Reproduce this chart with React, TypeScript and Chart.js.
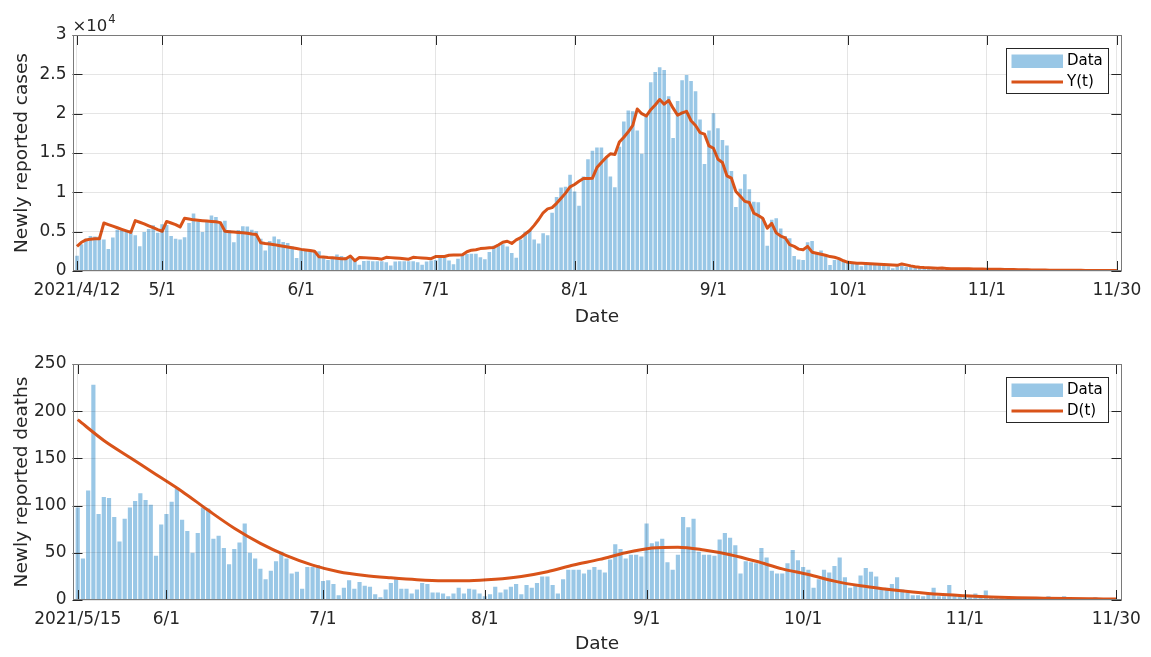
import React, { useEffect, useRef } from 'react';
import { Chart, registerables } from 'chart.js';

Chart.register(...registerables);

// ---------- Top panel: newly reported cases (day 0 = 2021/4/12) ----------
const caseCounts = [
  1950, 3400, 4100, 4450, 4400, 4400, 4000, 2800, 4250, 5250,
  5250, 5000, 5200, 4550, 3150, 4950, 5350, 5800, 4850, 5950,
  5850, 4450, 4100, 4000, 4300, 6100, 7300, 6300, 4950, 6250,
  7050, 6850, 6250, 6400, 5200, 3650, 5200, 5700, 5650, 5250,
  5050, 4100, 2600, 3800, 4400, 4050, 3700, 3550, 3100, 1650,
  2600, 2650, 2700, 2550, 2500, 1750, 1400, 1570, 2100, 1900,
  1750, 1800, 1400, 780, 1260, 1300, 1250, 1250, 1250, 1100,
  700, 1200, 1250, 1250, 1250, 1250, 1100, 780, 1200, 1350,
  1400, 1700, 1700, 1350, 870, 1550, 2050, 2150, 2200, 2200,
  1750, 1500, 2400, 3200, 3400, 3400, 3100, 2300, 1700, 4000,
  5000, 5200, 4000, 3500, 4800, 4550, 7400, 9400, 10600, 10700,
  12250, 10100, 8300, 12000, 14200, 15300, 15700, 15700, 14400, 12000,
  10650, 15800, 19000, 20400, 20300, 17850, 14900, 19850, 24000, 25300,
  25900, 25550, 22200, 16900, 21600, 24250, 24900, 24150, 22850, 19250,
  13600, 17850, 20050, 18150, 16650, 15950, 12700, 8150, 10450, 12300,
  10400, 8800, 8750, 6750, 3200, 6500, 6700, 5400, 4450, 4150,
  1900, 1450, 1400, 3650, 3800, 2250, 2600, 2050, 750, 1400,
  1450, 1300, 1150, 1050, 900, 600, 1000, 1000, 750, 800,
  700, 600, 350, 600, 650, 550, 500, 500, 420, 250,
  420, 390, 370, 340, 350, 300, 150, 280, 290, 260,
  260, 300, 220, 90, 180, 150, 220, 180, 160, 150,
  100, 150, 200, 180, 160, 170, 130, 60, 120, 150,
  140, 130, 120, 100, 80, 80, 100, 80, 80, 90,
  110, 80, 120,
];

const caseModel = [
  3130, 3650, 3950, 4050, 4100, 4100, 6100, 5900, 5700, 5500,
  5300, 5100, 4900, 6400, 6200, 6000, 5750, 5500, 5250, 5050,
  6300, 6100, 5900, 5600, 6700, 6600, 6500, 6450, 6400, 6350,
  6300, 6250, 6150, 5050, 5000, 4950, 4900, 4850, 4800, 4700,
  4650, 3600, 3500, 3420, 3350, 3250, 3150, 3050, 2950, 2850,
  2750, 2680, 2600, 2520, 1800, 1780, 1720, 1680, 1620, 1550,
  1550, 1900, 1300, 1720, 1700, 1660, 1620, 1580, 1500, 1740,
  1700, 1660, 1620, 1560, 1500, 1740, 1700, 1660, 1620, 1560,
  1830, 1840, 1850, 2000, 2020, 2040, 2060, 2450, 2650, 2700,
  2850, 2900, 2950, 3000, 3300, 3650, 3780, 3500, 3950, 4250,
  4700, 5150, 5800, 6550, 7400, 7900, 8050, 8600, 9250, 9900,
  10700, 11000, 11400, 11750, 11750, 11800, 13150, 13800, 14400, 14900,
  14800, 16400, 17000, 17700, 18500, 20600, 20000, 19700, 20500, 21100,
  21800, 21200, 21700, 20700, 19800, 20100, 20300, 19100, 18500, 17600,
  17400, 15900, 15600, 14200, 13800, 12100, 11800, 10100, 9500, 8850,
  8700, 7350, 7050, 6700, 5450, 6050, 4850, 4440, 4220, 3350,
  3130, 2780, 2700, 3130, 2390, 2260, 2130, 2000, 1830, 1740,
  1570, 1300, 1100, 1050, 1000, 980, 950, 920, 890, 860,
  830, 800, 760, 720, 900, 780, 650, 550, 480, 430,
  400, 380, 360, 370, 330, 300, 290, 280, 300, 280,
  260, 250, 240, 220, 210, 220, 210, 200, 190, 180,
  160, 150, 150, 140, 130, 130, 120, 110, 110, 100,
  100, 90, 90, 80, 80, 75, 70, 65, 60, 60,
  55, 50, 50,
];

const caseTickDays = [0, 19, 50, 80, 111, 142, 172, 203, 232];
const caseTickLabels = ['2021/4/12', '5/1', '6/1', '7/1', '8/1', '9/1', '10/1', '11/1', '11/30'];
const caseYTicks = [0, 5000, 10000, 15000, 20000, 25000, 30000];
const caseYTickLabels = ['0', '0.5', '1', '1.5', '2', '2.5', '3'];

// ---------- Bottom panel: newly reported deaths (day 0 = 2021/5/15) ----------
const deathCounts = [
  98, 44, 116, 228, 91, 109, 108, 88, 62, 86,
  98, 105, 113, 106, 101, 47, 80, 91, 104, 118,
  85, 73, 50, 71, 98, 97, 65, 68, 55, 38,
  54, 61, 81, 50, 44, 33, 22, 31, 41, 51,
  44, 28, 30, 12, 35, 35, 37, 20, 21, 17,
  5, 13, 21, 12, 19, 15, 14, 6, 3, 11,
  18, 22, 12, 12, 7, 11, 18, 17, 8, 8,
  7, 4, 7, 13, 7, 12, 11, 7, 4, 6,
  14, 8, 11, 14, 17, 6, 16, 13, 18, 25,
  25, 16, 7, 22, 32, 32, 32, 28, 32, 35,
  32, 29, 43, 59, 54, 44, 48, 48, 46, 81,
  60, 62, 65, 40, 32, 48, 88, 77, 86, 51,
  48, 48, 47, 64, 71, 66, 58, 28, 41, 40,
  39, 55, 45, 31, 28, 28, 39, 53, 42, 35,
  32, 13, 22, 32, 29, 36, 45, 24, 13, 16,
  26, 34, 30, 25, 11, 13, 17, 24, 11, 8,
  5, 5, 4, 6, 13, 4, 4, 16, 5, 4,
  3, 3, 7, 4, 10, 3, 2, 2, 1, 3,
  2, 1, 2, 1, 1, 2, 4, 1, 2, 4,
  1, 2, 1, 1, 2, 3, 1, 1, 2, 1,
];

const deathModelDays = [0, 5, 10, 15, 20, 25, 30, 35, 40, 45, 50, 55, 60, 65, 70, 75, 80, 85, 90, 95, 100, 105, 110, 115, 120, 125, 130, 135, 140, 145, 150, 155, 160, 165, 170, 175, 180, 185, 190, 195, 199];
const deathModelValues = [191, 169, 151, 133, 115, 95, 76, 60, 47, 37, 30, 26, 23.5, 21.5, 20.5, 20.5, 22, 25, 30, 37, 43, 50, 55, 56, 53, 48, 41, 33, 27, 20, 15, 11.5, 8.5, 6, 4.5, 3.3, 2.4, 1.9, 1.5, 1.2, 1];

const deathTickDays = [0, 17, 47, 78, 109, 139, 170, 199];
const deathTickLabels = ['2021/5/15', '6/1', '7/1', '8/1', '9/1', '10/1', '11/1', '11/30'];
const deathYTicks = [0, 50, 100, 150, 200, 250];
const deathYTickLabels = ['0', '50', '100', '150', '200', '250'];

// ---------- styling ----------
const BAR_COLOR = 'rgb(153,199,230)';
const LINE_COLOR = 'rgb(217,83,25)';
const GRID_COLOR = 'rgba(38,38,38,0.12)';
const AXIS_COLOR = '#262626';
const FONT = '"DejaVu Sans", "Noto Sans", sans-serif';
const W = 1151;

type PanelCfg = {
  height: number;
  padTop: number;
  xMax: number;
  yMax: number;
  counts: number[];
  modelX: number[];
  modelY: number[];
  tickDays: number[];
  tickLabels: string[];
  yTicks: number[];
  yTickLabels: string[];
  yTitle: string;
  lineLabel: string;
  smooth: boolean;
  exponent: boolean;
};

function framePlugin(cfg: PanelCfg) {
  return {
    id: 'matlabFrame',
    afterDraw(chart: any) {
      const { ctx, chartArea: a, scales } = chart;
      ctx.save();
      // inward ticks
      ctx.strokeStyle = AXIS_COLOR;
      ctx.lineWidth = 1;
      ctx.beginPath();
      cfg.tickDays.forEach((d) => {
        const px = Math.round(scales.x.getPixelForValue(d)) + 0.5;
        ctx.moveTo(px, a.bottom);
        ctx.lineTo(px, a.bottom - 10);
        ctx.moveTo(px, a.top);
        ctx.lineTo(px, a.top + 10);
      });
      cfg.yTicks.forEach((v) => {
        const py = Math.round(scales.y.getPixelForValue(v)) + 0.5;
        ctx.moveTo(a.left, py);
        ctx.lineTo(a.left + 10, py);
        ctx.moveTo(a.right, py);
        ctx.lineTo(a.right - 10, py);
      });
      ctx.stroke();
      // box
      ctx.strokeStyle = '#7a7a7a';
      ctx.strokeRect(Math.round(a.left) + 0.5, Math.round(a.top) + 0.5, Math.round(a.right - a.left) - 1, Math.round(a.bottom - a.top) - 1);

      // legend
      const bx = Math.round(a.right - 115.8) + 0.5;
      const by = Math.round(a.top + 12.5) + 0.5;
      const bw = 102;
      const bh = 45;
      ctx.fillStyle = '#ffffff';
      ctx.fillRect(bx, by, bw, bh);
      ctx.strokeStyle = AXIS_COLOR;
      ctx.lineWidth = 1;
      ctx.strokeRect(bx, by, bw, bh);
      ctx.fillStyle = BAR_COLOR;
      ctx.fillRect(bx + 5, by + 6, 51.5, 13.5);
      ctx.strokeStyle = LINE_COLOR;
      ctx.lineWidth = 3;
      ctx.beginPath();
      ctx.moveTo(bx + 5, by + 33.5);
      ctx.lineTo(bx + 56.5, by + 33.5);
      ctx.stroke();
      ctx.fillStyle = '#000000';
      ctx.font = '15px ' + FONT;
      ctx.textBaseline = 'middle';
      ctx.textAlign = 'left';
      ctx.fillText('Data', bx + 60.5, by + 13);
      ctx.fillText(cfg.lineLabel, bx + 60.5, by + 34);

      if (cfg.exponent) {
        ctx.fillStyle = '#262626';
        ctx.textBaseline = 'alphabetic';
        ctx.font = '16.5px ' + FONT;
        ctx.fillText('\u00d710', a.left, a.top - 4);
        const w = ctx.measureText('\u00d710').width;
        ctx.font = '11.5px ' + FONT;
        ctx.fillText('4', a.left + w + 1, a.top - 12);
      }
      ctx.restore();
    },
  };
}

function buildConfig(cfg: PanelCfg): any {
  const labelFor = (list: number[], labels: string[]) => (value: any) => {
    const i = list.indexOf(Number(value));
    return i >= 0 ? labels[i] : '';
  };
  return {
    type: 'bar',
    data: {
      datasets: [
        {
          type: 'line',
          label: cfg.lineLabel,
          data: cfg.modelY.map((v, i) => ({ x: cfg.modelX[i], y: v })),
          borderColor: LINE_COLOR,
          borderWidth: 3,
          pointRadius: 0,
          fill: false,
          tension: 0,
          cubicInterpolationMode: cfg.smooth ? 'monotone' : 'default',
          borderJoinStyle: 'round',
          order: 0,
        },
        {
          type: 'bar',
          label: 'Data',
          data: cfg.counts.map((v, i) => ({ x: i, y: v })),
          backgroundColor: BAR_COLOR,
          borderWidth: 0,
          barPercentage: 0.8,
          categoryPercentage: 1,
          order: 1,
        },
      ],
    },
    options: {
      responsive: false,
      animation: false,
      devicePixelRatio: 1,
      layout: { padding: { top: cfg.padTop, right: W - 1121.5, left: 0, bottom: 0 } },
      plugins: { legend: { display: false }, tooltip: { enabled: false } },
      scales: {
        x: {
          type: 'linear',
          min: -1,
          max: cfg.xMax,
          offset: false,
          afterBuildTicks: (s: any) => {
            s.ticks = cfg.tickDays.map((v) => ({ value: v }));
          },
          afterFit: (s: any) => {
            s.height = cfg.height - cfg.padTop - 236;
          },
          grid: { color: GRID_COLOR, drawTicks: false, offset: false, z: 1 },
          border: { display: false },
          ticks: {
            autoSkip: false,
            maxRotation: 0,
            minRotation: 0,
            padding: 9.5,
            color: '#262626',
            font: { family: FONT, size: 17 },
            callback: labelFor(cfg.tickDays, cfg.tickLabels),
          },
          title: {
            display: true,
            text: 'Date',
            color: '#262626',
            font: { family: FONT, size: 18.5, lineHeight: 1 },
            padding: { top: 0, bottom: 4 },
          },
        },
        y: {
          type: 'linear',
          min: 0,
          max: cfg.yMax,
          afterBuildTicks: (s: any) => {
            s.ticks = cfg.yTicks.map((v) => ({ value: v }));
          },
          afterFit: (s: any) => {
            s.width = 72.5;
          },
          grid: { color: GRID_COLOR, drawTicks: false, z: 1 },
          border: { display: false },
          ticks: {
            padding: 6,
            color: '#262626',
            font: { family: FONT, size: 17 },
            callback: labelFor(cfg.yTicks, cfg.yTickLabels),
          },
          title: {
            display: true,
            text: cfg.yTitle,
            color: '#262626',
            font: { family: FONT, size: 18.5, lineHeight: 1 },
            padding: { top: 13, bottom: 0 },
          },
        },
      },
    },
    plugins: [framePlugin(cfg)],
  };
}

const topCfg: PanelCfg = {
  height: 330,
  padTop: 35,
  xMax: 233,
  yMax: 30000,
  counts: caseCounts,
  modelX: caseModel.map((_, i) => i),
  modelY: caseModel,
  tickDays: caseTickDays,
  tickLabels: caseTickLabels,
  yTicks: caseYTicks,
  yTickLabels: caseYTickLabels,
  yTitle: 'Newly reported cases',
  lineLabel: 'Y(t)',
  smooth: false,
  exponent: true,
};

const bottomCfg: PanelCfg = {
  height: 327,
  padTop: 34,
  xMax: 200,
  yMax: 250,
  counts: deathCounts,
  modelX: deathModelDays,
  modelY: deathModelValues,
  tickDays: deathTickDays,
  tickLabels: deathTickLabels,
  yTicks: deathYTicks,
  yTickLabels: deathYTickLabels,
  yTitle: 'Newly reported deaths',
  lineLabel: 'D(t)',
  smooth: true,
  exponent: false,
};

function Panel({ cfg, top }: { cfg: PanelCfg; top: number }) {
  const ref = useRef<HTMLCanvasElement | null>(null);
  useEffect(() => {
    if (!ref.current) return;
    const chart = new Chart(ref.current, buildConfig(cfg));
    return () => chart.destroy();
  }, [cfg]);
  return (
    <canvas
      ref={ref}
      width={W}
      height={cfg.height}
      style={{ position: 'absolute', left: 0, top, width: W, height: cfg.height, display: 'block' }}
    />
  );
}

export default function App() {
  return (
    <div style={{ position: 'absolute', left: 0, top: 0, width: W, height: 657, background: '#ffffff', overflow: 'hidden' }}>
      <Panel cfg={topCfg} top={0} />
      <Panel cfg={bottomCfg} top={330} />
    </div>
  );
}
